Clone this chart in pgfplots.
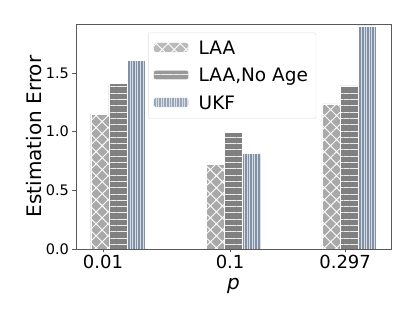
\documentclass[border=0pt]{standalone}
\usepackage{pgfplots}
\pgfplotsset{compat=1.18}
\usepackage{fontspec}
\setmainfont{DejaVu Sans}
\usetikzlibrary{patterns.meta}
\definecolor{laac}{RGB}{169,169,169}
\definecolor{noagec}{RGB}{128,128,128}
\definecolor{ukfc}{RGB}{128,144,165}
\definecolor{framec}{RGB}{90,90,90}
\definecolor{legc}{RGB}{220,220,220}
\begin{document}
\begin{tikzpicture}
\useasboundingbox (-76pt,-71pt) rectangle (339pt,249pt);
\begin{axis}[
  scale only axis, width=315pt, height=225pt,
  ybar, bar width=0.157,
  legend image code/.code={\path[#1] (0pt,-4pt) rectangle (35pt,5.5pt);},
  xmin=-0.363, xmax=2.362, ymin=0, ymax=1.917,
  xtick={-0.13,0.97,1.965}, xticklabels={0.01,0.1,0.297},
  ytick={0,0.5,1,1.5},
  yticklabels={0.0,0.5,1.0,1.5},
  tick align=outside, xtick pos=bottom, ytick pos=left,
  major tick length=3.5pt,
  axis line style={framec}, tick style={framec, line width=0.6pt},
  xticklabel style={font=\fontsize{18}{20}\selectfont, yshift=1pt},
  yticklabel style={font=\fontsize{14.5}{16}\selectfont},
  ylabel={Estimation Error},
  ylabel style={font=\fontsize{20}{22}\selectfont, at={([xshift=-41.5pt]axis description cs:0,0.5)}, anchor=center},
  xlabel={\textit{p}},
  xlabel style={font=\fontsize{20}{22}\selectfont, at={(axis description cs:0.5,0)}, anchor=north, inner sep=0pt, yshift=-29pt},
  legend style={at={(rel axis cs:0.229,0.962)}, anchor=north west,
    draw=legc, rounded corners=2pt, fill=white, fill opacity=0.8, text opacity=1,
    font=\fontsize{18.5}{20}\selectfont, row sep=8.5pt, column sep=7pt, inner xsep=5pt, inner ysep=6pt,
    nodes={inner xsep=3pt}},
  legend cell align=left,
]
\addplot[bar shift=-0.157, fill=laac, draw=white, line width=0.4pt,
  postaction={pattern={Hatch[distance=8.5pt, angle=45, line width=0.9pt]}, pattern color=white}]
  coordinates {(0,1.149) (1,0.720) (2,1.237)};
\addplot[bar shift=0, fill=noagec, draw=white, line width=0.4pt,
  postaction={pattern={Lines[distance=6.3pt, angle=0, line width=0.9pt]}, pattern color=white!85!gray}]
  coordinates {(0,1.414) (1,0.996) (2,1.390)};
\addplot[bar shift=0.157, fill=ukfc, draw=white, line width=0.4pt,
  postaction={pattern={Lines[distance=2.6pt, angle=90, line width=0.9pt]}, pattern color=white!70!ukfc}]
  coordinates {(0,1.608) (1,0.817) (2,1.900)};
\legend{LAA,{LAA,No Age},UKF}
\end{axis}
\end{tikzpicture}
\end{document}
